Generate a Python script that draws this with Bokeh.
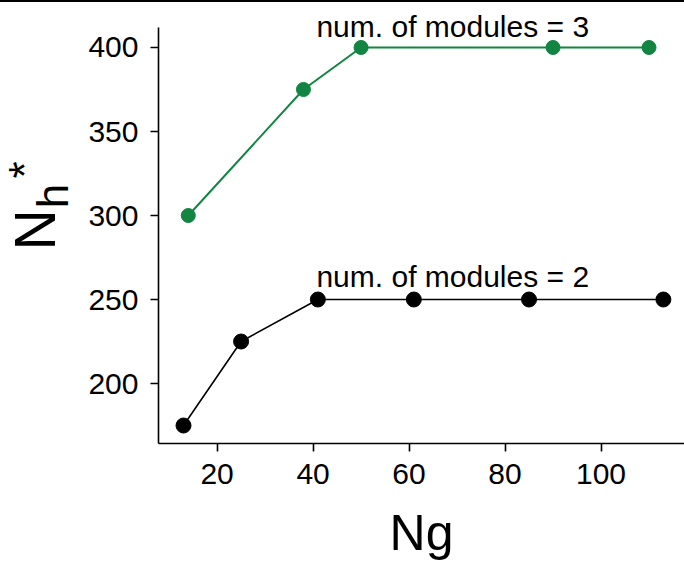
import math
from bokeh.plotting import figure
from bokeh.models import Label, Range1d, FixedTicker, ColumnDataSource, Div
from bokeh.layouts import column, row
from bokeh.core.properties import value
from bokeh.embed import file_html
from bokeh.resources import INLINE

# ---- data ----
ng_m2 = [13, 25, 41, 61, 85, 113]
nh_m2 = [175, 225, 250, 250, 250, 250]
ng_m3 = [14, 38, 50, 90, 110]
nh_m3 = [300, 375, 400, 400, 400]
x_ticks = [20, 40, 60, 80, 100]
y_ticks = [200, 250, 300, 350, 400]
ann_text = ["num. of modules = 2", "num. of modules = 3"]
ann_x = [40.7, 40.7]
ann_y = [263.7, 412.5]

FONT = "Liberation Sans"
GREEN = "#118541"
Y_LO, Y_AXIS_TOP = 164.3, 411.9

# thin black rule across the top of the page
bar = Div(text="", width=684, height=2, margin=0,
          styles={"background-color": "black"})

# narrow panel holding the rotated y-axis title  N_h^*
lab = figure(width=80, height=564, toolbar_location=None, output_backend="svg",
             x_range=Range1d(0, 80), y_range=Range1d(0, 564),
             x_axis_type=None, y_axis_type=None, min_border=0,
             outline_line_color=None, background_fill_color="white",
             border_fill_color="white")
lab.grid.visible = False
lab.text(x=[34], y=[273], text=["N"], angle=math.pi / 2,
         text_font=value(FONT), text_font_size=value("57px"),
         text_color="black", text_align="center", text_baseline="alphabetic")
lab.text(x=[52], y=[301], text=["h"], angle=math.pi / 2,
         text_font=value(FONT), text_font_size=value("44px"),
         text_color="black", text_align="left", text_baseline="alphabetic")
lab.text(x=[24], y=[339], text=["*"], angle=math.pi / 2,
         text_font=value(FONT), text_font_size=value("44px"),
         text_color="black", text_align="left", text_baseline="alphabetic")

p = figure(width=604, height=564, toolbar_location=None, output_backend="svg",
           x_range=Range1d(7.79, 117.4),
           y_range=Range1d(Y_LO, Y_AXIS_TOP + 25 / 1.68),
           min_border_left=78, min_border_right=0, min_border_top=0,
           min_border_bottom=123, outline_line_color=None,
           background_fill_color="white", border_fill_color="white")
p.grid.visible = False

s2 = ColumnDataSource(dict(x=ng_m2, y=nh_m2))
s3 = ColumnDataSource(dict(x=ng_m3, y=nh_m3))
p.line("x", "y", source=s3, line_color=GREEN, line_width=2)
p.scatter("x", "y", source=s3, size=14, fill_color=GREEN, line_color=GREEN)
p.line("x", "y", source=s2, line_color="black", line_width=1.6)
p.scatter("x", "y", source=s2, size=15, fill_color="black", line_color="black")

for ax in (p.xaxis[0], p.yaxis[0]):
    ax.axis_line_width = 1.6
    ax.major_tick_line_width = 1.6
    ax.major_tick_out = 8
    ax.major_tick_in = 0
    ax.minor_tick_line_color = None
    ax.major_label_text_font = FONT
    ax.major_label_text_font_size = "30px"
    ax.major_label_text_color = "black"
    ax.axis_line_color = "black"
    ax.major_tick_line_color = "black"

p.yaxis.bounds = (Y_LO, Y_AXIS_TOP)
p.xaxis.ticker = FixedTicker(ticks=x_ticks)
p.yaxis.ticker = FixedTicker(ticks=y_ticks)
p.xaxis.major_label_standoff = 12
p.yaxis.major_label_standoff = 12

p.xaxis.axis_label = "Ng"
p.xaxis.axis_label_text_font = FONT
p.xaxis.axis_label_text_font_size = "50px"
p.xaxis.axis_label_text_font_style = "normal"
p.xaxis.axis_label_text_color = "black"
p.xaxis.axis_label_standoff = 18

for t, x, y in zip(ann_text, ann_x, ann_y):
    p.add_layout(Label(x=x, y=y, text=t, text_font=FONT, text_font_size="30px",
                       text_color="black", text_baseline="alphabetic",
                       text_align="left"))

layout = column(bar, row(lab, p, spacing=0), spacing=0)
open("out.html", "w").write(file_html(layout, INLINE))
